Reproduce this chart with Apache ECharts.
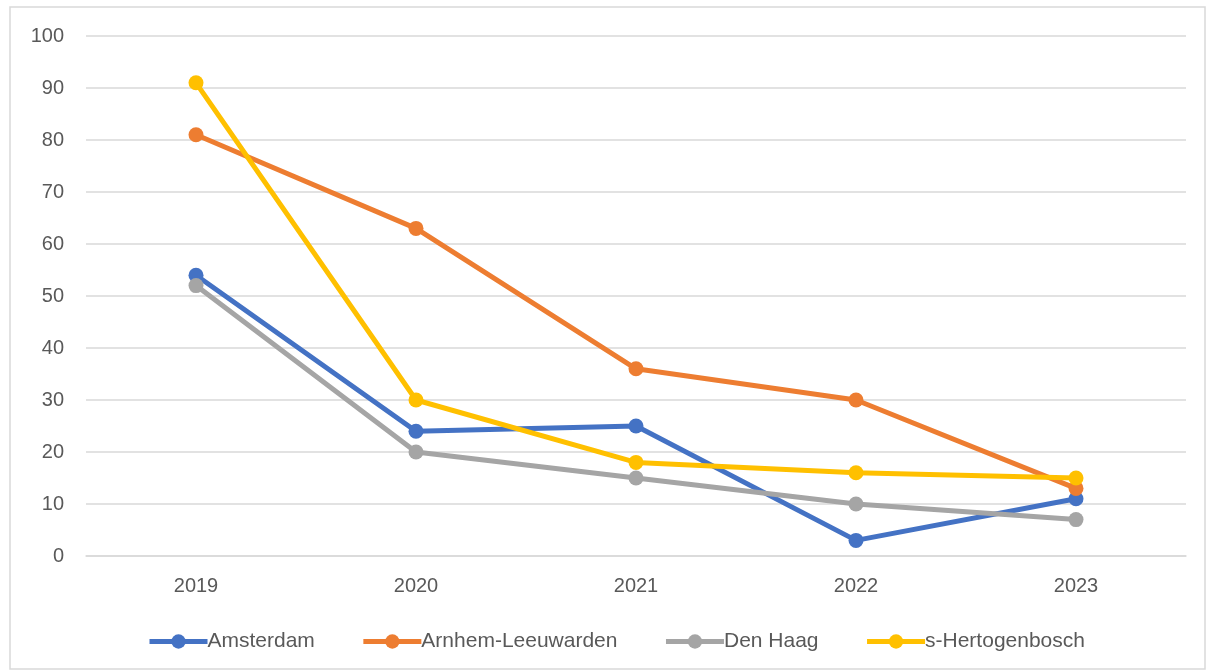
<!DOCTYPE html>
<html>
<head>
<meta charset="utf-8">
<script src="https://cdn.jsdelivr.net/npm/echarts@6/dist/echarts.min.js"></script>
<style>
  html, body { margin: 0; padding: 0; background: #fff; }
  #container1 { width: 1208px; height: 672px; }
</style>
</head>
<body>
<div id="container1"></div>
<script>
// data
var years = ['2019', '2020', '2021', '2022', '2023'];
var amsterdam = [54, 24, 25, 3, 11];
var arnhemLeeuwarden = [81, 63, 36, 30, 13];
var denHaag = [52, 20, 15, 10, 7];
var sHertogenbosch = [91, 30, 18, 16, 15];

function makeSeries(name, data, color) {
    return {
        name: name,
        type: 'line',
        data: data,
        symbol: 'circle',
        symbolSize: 15,
        lineStyle: { width: 5, color: color },
        itemStyle: { color: color },
        emphasis: { disabled: true }
    };
}

var myChart = echarts.init(document.getElementById('container1'));
var option = {
    animation: false,
    backgroundColor: '#fff',
    graphic: [{
        type: 'rect',
        shape: { x: 10, y: 7, width: 1195, height: 662 },
        style: { fill: 'none', stroke: '#d9d9d9', lineWidth: 1.5 }
    }],
    grid: { left: 86, right: 22, top: 36, bottom: 116 },
    legend: {
        bottom: 15,
        left: 142,
        itemWidth: 58,
        itemHeight: 18,
        itemGap: 46,
        lineStyle: { width: 5 },
        textStyle: { fontFamily: 'Liberation Sans', fontSize: 21, color: '#595959', padding: [0, 0, 0, -5] },
        data: ['Amsterdam', 'Arnhem-Leeuwarden', 'Den Haag', 's-Hertogenbosch']
    },
    xAxis: {
        type: 'category',
        data: years,
        boundaryGap: true,
        axisLine: { lineStyle: { color: '#d9d9d9', width: 1.5 } },
        axisTick: { show: false },
        axisLabel: { fontFamily: 'Liberation Sans', fontSize: 20, color: '#595959', margin: 20 }
    },
    yAxis: {
        type: 'value',
        min: 0,
        max: 100,
        interval: 10,
        axisLine: { show: false },
        axisTick: { show: false },
        splitLine: { lineStyle: { color: '#d9d9d9', width: 1.5 } },
        axisLabel: { fontFamily: 'Liberation Sans', fontSize: 20, color: '#595959', margin: 22 }
    },
    series: [
        makeSeries('Amsterdam', amsterdam, '#4472c4'),
        makeSeries('Arnhem-Leeuwarden', arnhemLeeuwarden, '#ed7d31'),
        makeSeries('Den Haag', denHaag, '#a5a5a5'),
        makeSeries('s-Hertogenbosch', sHertogenbosch, '#ffc000')
    ]
};
myChart.setOption(option);
</script>
</body>
</html>
